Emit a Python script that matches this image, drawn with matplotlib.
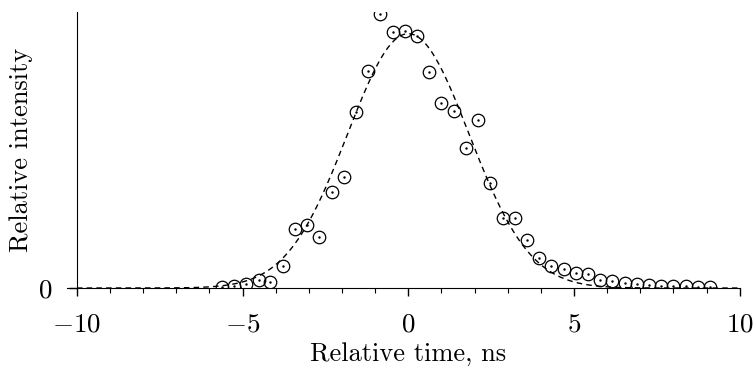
import numpy as np
import matplotlib
matplotlib.use("Agg")
import matplotlib.pyplot as plt
from matplotlib.ticker import MultipleLocator

plt.rcParams["font.family"] = "serif"
plt.rcParams["font.serif"] = ["cmr10"]
plt.rcParams["mathtext.fontset"] = "cm"
plt.rcParams["axes.formatter.use_mathtext"] = True

# measured pulse (ns, normalised counts)
times = [-5.63, -5.26, -4.89, -4.52, -4.16, -3.79, -3.42, -3.05, -2.68, -2.31,
         -1.94, -1.58, -1.21, -0.84, -0.47, -0.10, 0.26, 0.63, 1.00, 1.37,
         1.74, 2.11, 2.48, 2.85, 3.21, 3.58, 3.95, 4.32, 4.69, 5.06,
         5.43, 5.79, 6.16, 6.53, 6.90, 7.27, 7.64, 8.00, 8.37, 8.74, 9.11]
intensity = [0.003, 0.007, 0.016, 0.031, 0.024, 0.088, 0.232, 0.249, 0.202, 0.379,
             0.437, 0.693, 0.852, 1.077, 1.008, 1.012, 0.992, 0.848, 0.726, 0.695,
             0.550, 0.661, 0.411, 0.277, 0.277, 0.188, 0.119, 0.088, 0.074, 0.059,
             0.054, 0.032, 0.026, 0.019, 0.016, 0.012, 0.008, 0.008, 0.007, 0.004,
             0.004]

# gaussian fit parameters
amp = 1.0
t0 = 0.0
sigma = 1.83

fig = plt.figure(figsize=(7.54, 3.77), dpi=100)
ax = fig.add_axes([0.102, 0.236, 0.879, 0.732])

t = np.linspace(-10, 10, 600)
ax.plot(t, amp * np.exp(-(t - t0) ** 2 / (2 * sigma ** 2)), color="black",
        lw=1.0, ls=(0, (4, 3)))
ax.plot(times, intensity, "o", mfc="none", mec="black", ms=9, mew=0.9)
ax.plot(times, intensity, ".", color="black", ms=1.5)

ax.set_xlim(-10, 10)
ax.set_ylim(0, 1.085)
ax.spines["top"].set_visible(False)
ax.spines["right"].set_visible(False)
ax.spines["bottom"].set_bounds(-10.3, 10)
ax.set_xticks([-10, -5, 0, 5, 10])
ax.xaxis.set_minor_locator(MultipleLocator(1))
ax.set_yticks([0])
ax.tick_params(direction="out", length=6, width=1, labelsize=19.5)
ax.tick_params(axis="x", pad=12)
ax.tick_params(axis="y", pad=12)
ax.tick_params(which="minor", direction="out", length=3.5, width=0.8)
ax.set_xlabel("Relative time, ns", fontsize=19, labelpad=4)
ax.set_ylabel("Relative intensity", fontsize=19, labelpad=3)

fig.savefig("out.png", dpi=100)
